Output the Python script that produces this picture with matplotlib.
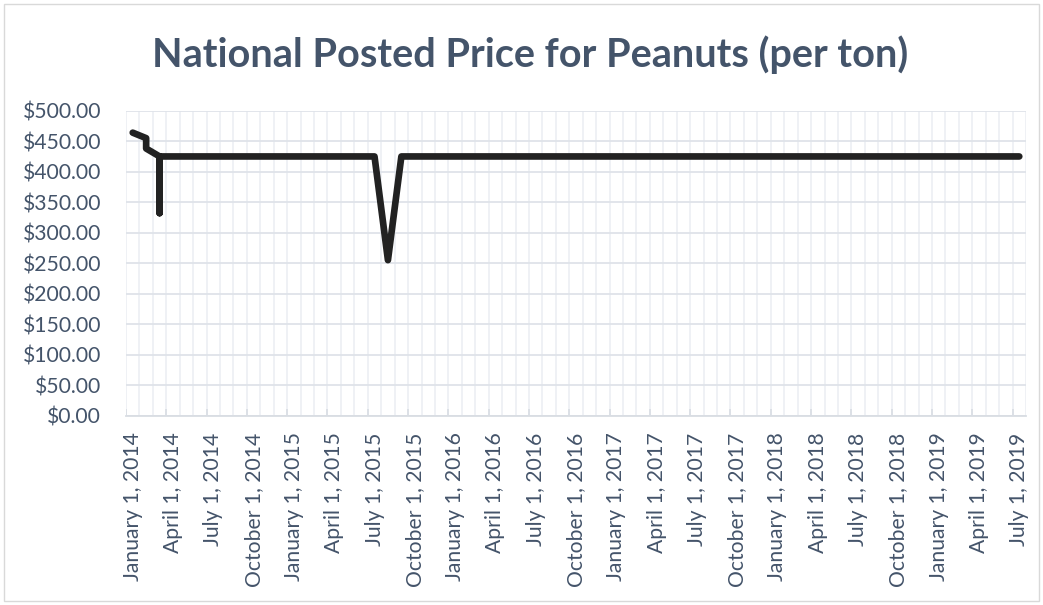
import matplotlib.pyplot as plt
import matplotlib.patches as patches
import numpy as np

# monthly observations (several entries in one month stack vertically, like the Excel date axis)
months = [
    "2014-01", "2014-02", "2014-02", "2014-03", "2014-03", "2014-03",
    "2014-04", "2014-05", "2014-06", "2014-07", "2014-08", "2014-09",
    "2014-10", "2014-11", "2014-12",
    "2015-01", "2015-02", "2015-03", "2015-04", "2015-05", "2015-06",
    "2015-07", "2015-08", "2015-09", "2015-10", "2015-11", "2015-12",
    "2016-01", "2016-02", "2016-03", "2016-04", "2016-05", "2016-06",
    "2016-07", "2016-08", "2016-09", "2016-10", "2016-11", "2016-12",
    "2017-01", "2017-02", "2017-03", "2017-04", "2017-05", "2017-06",
    "2017-07", "2017-08", "2017-09", "2017-10", "2017-11", "2017-12",
    "2018-01", "2018-02", "2018-03", "2018-04", "2018-05", "2018-06",
    "2018-07", "2018-08", "2018-09", "2018-10", "2018-11", "2018-12",
    "2019-01", "2019-02", "2019-03", "2019-04", "2019-05", "2019-06",
    "2019-07",
]
prices = [
    464.0, 455.0, 438.0, 425.0, 332.0, 425.0,
    425.0, 425.0, 425.0, 425.0, 425.0, 425.0,
    425.0, 425.0, 425.0,
    425.0, 425.0, 425.0, 425.0, 425.0, 425.0,
    425.0, 255.0, 425.0, 425.0, 425.0, 425.0,
    425.0, 425.0, 425.0, 425.0, 425.0, 425.0,
    425.0, 425.0, 425.0, 425.0, 425.0, 425.0,
    425.0, 425.0, 425.0, 425.0, 425.0, 425.0,
    425.0, 425.0, 425.0, 425.0, 425.0, 425.0,
    425.0, 425.0, 425.0, 425.0, 425.0, 425.0,
    425.0, 425.0, 425.0, 425.0, 425.0, 425.0,
    425.0, 425.0, 425.0, 425.0, 425.0, 425.0,
    425.0,
]

tick_labels = [
    "January 1, 2014", "April 1, 2014", "July 1, 2014", "October 1, 2014",
    "January 1, 2015", "April 1, 2015", "July 1, 2015", "October 1, 2015",
    "January 1, 2016", "April 1, 2016", "July 1, 2016", "October 1, 2016",
    "January 1, 2017", "April 1, 2017", "July 1, 2017", "October 1, 2017",
    "January 1, 2018", "April 1, 2018", "July 1, 2018", "October 1, 2018",
    "January 1, 2019", "April 1, 2019", "July 1, 2019",
]
tick_months = [
    "2014-01", "2014-04", "2014-07", "2014-10",
    "2015-01", "2015-04", "2015-07", "2015-10",
    "2016-01", "2016-04", "2016-07", "2016-10",
    "2017-01", "2017-04", "2017-07", "2017-10",
    "2018-01", "2018-04", "2018-07", "2018-10",
    "2019-01", "2019-04", "2019-07",
]
y_ticks = [0, 50, 100, 150, 200, 250, 300, 350, 400, 450, 500]


def month_slot(s):
    y, m = s.split("-")
    return (int(y) - 2014) * 12 + int(m) - 1


text_col = "#44546A"
plt.rcParams['font.family'] = ['Lato', 'DejaVu Sans']

fig = plt.figure(figsize=(10.43, 6.05), dpi=100)
fig.patches.append(patches.Rectangle((4 / 1043, 4 / 605), 1035 / 1043, 597 / 605,
                                     transform=fig.transFigure, fill=False,
                                     edgecolor="#D9D9D9", lw=1))

ax = fig.add_axes([126 / 1043, 1 - 415.7 / 605, 900 / 1043, 305 / 605])

x = np.array([month_slot(m) for m in months]) + 0.5
ax.plot(x, prices, color="#222222", lw=4.8,
        solid_joinstyle="round", solid_capstyle="round", zorder=3)

n_slots = month_slot("2019-08")
ax.set_xlim(0, n_slots)
ax.set_ylim(0, 500)

ax.set_yticks(y_ticks)
ax.set_yticklabels(["${:.2f}".format(v) for v in y_ticks])

ax.set_xticks([month_slot(m) + 0.5 for m in tick_months])
ax.set_xticklabels(tick_labels, rotation=90)
ax.set_xticks(np.arange(0, n_slots + 1), minor=True)

ax.tick_params(axis="x", which="both", length=0, pad=12, labelsize=15.2, labelcolor=text_col)
ax.tick_params(axis="y", length=0, pad=18, labelsize=15.2, labelcolor=text_col)

ax.grid(True, axis="y", which="major", color="#DFE3E9", lw=1.3)
ax.grid(True, axis="x", which="minor", color="#EEF0F4", lw=1.3)
ax.grid(False, axis="x", which="major")
ax.set_axisbelow(True)

# quarter tick marks on the date axis
ax.vlines(np.arange(0, n_slots, 3), 0, 0.022, transform=ax.get_xaxis_transform(),
          color="#D9DDE3", lw=1.2, zorder=2)

for s in ["top", "right", "left"]:
    ax.spines[s].set_visible(False)
ax.spines["bottom"].set_color("#D9DDE3")
ax.spines["bottom"].set_linewidth(1.3)

fig.text(530 / 1043, 1 - 55 / 605, "National Posted Price for Peanuts (per ton)",
         ha="center", va="center", fontsize=28.5, fontweight="bold", color=text_col)

fig.savefig("out.png", dpi=100)
